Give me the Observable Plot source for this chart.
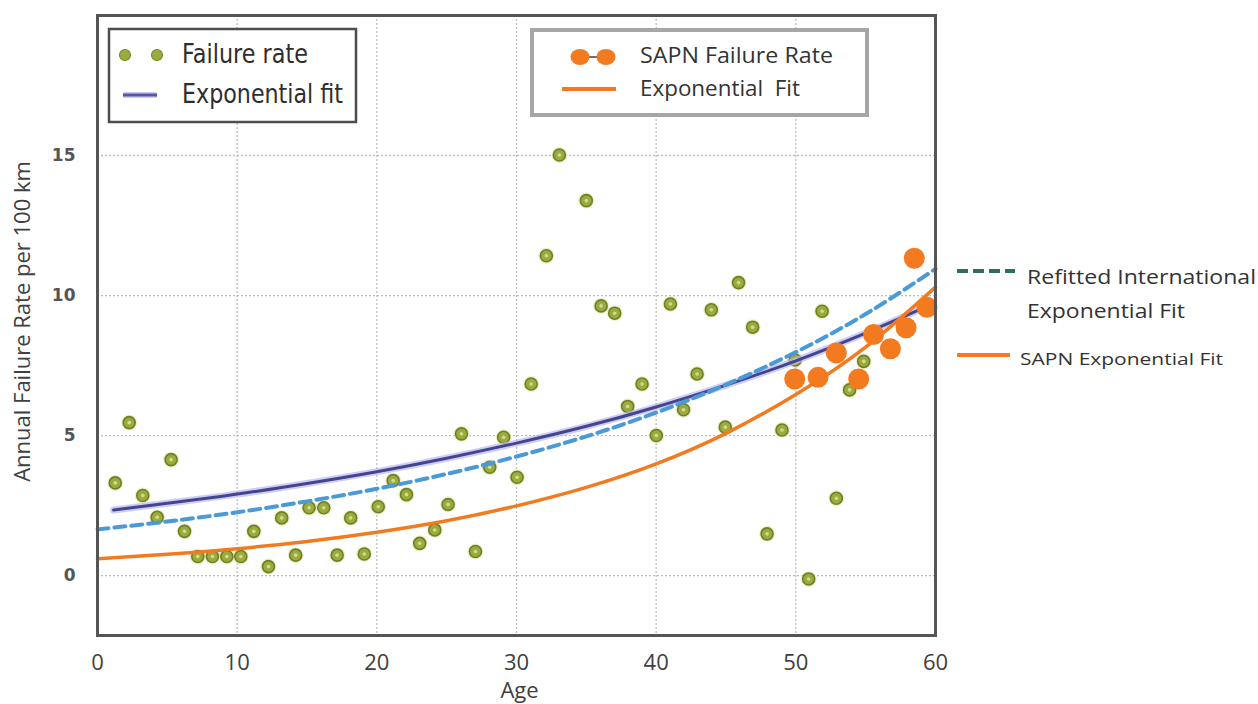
<!DOCTYPE html>
<html>
<head>
<meta charset="utf-8">
<script src="https://cdn.jsdelivr.net/npm/d3@7"></script>
<script src="https://cdn.jsdelivr.net/npm/@observablehq/plot@0.6"></script>
<style>
  html, body { margin: 0; padding: 0; background: #fff; }
  #chart { position: relative; width: 1258px; height: 704px; }
</style>
</head>
<body>
<div id="chart"></div>
<script>
// ---- data ----
const failureAge = [1.27, 2.27, 3.24, 4.27, 5.27, 6.23, 7.18, 8.23, 9.26, 10.26, 11.19, 12.24, 13.19, 14.19, 15.15, 16.2, 17.16, 18.13, 19.1, 20.1, 21.17, 22.12, 23.07, 24.15, 25.1, 26.06, 27.06, 28.08, 29.08, 30.04, 31.05, 32.14, 33.07, 35.0, 36.06, 37.03, 37.96, 38.99, 40.01, 41.02, 41.96, 42.93, 43.95, 44.95, 45.9, 46.91, 47.94, 49.01, 49.95, 50.92, 51.88, 52.9, 53.85, 54.86];
const failureRate = [3.31, 5.46, 2.86, 2.08, 4.14, 1.58, 0.68, 0.68, 0.68, 0.68, 1.58, 0.32, 2.06, 0.73, 2.42, 2.42, 0.73, 2.06, 0.77, 2.46, 3.39, 2.89, 1.15, 1.63, 2.54, 5.06, 0.86, 3.87, 4.94, 3.51, 6.84, 11.42, 15.02, 13.39, 9.63, 9.37, 6.04, 6.84, 5.0, 9.70, 5.92, 7.20, 9.49, 5.3, 10.46, 8.87, 1.49, 5.2, 7.7, -0.12, 9.44, 2.76, 6.63, 7.65];

const sapnAge = [49.92, 51.59, 52.9, 54.5, 55.57, 56.77, 57.89, 58.48, 59.39];
const sapnRate = [7.02, 7.08, 7.95, 7.02, 8.61, 8.1, 8.85, 11.33, 9.58];

const intlFitAge = [1.15, 5, 10, 15, 20, 25, 30, 35, 40, 45, 50, 55, 58.7];
const intlFitRate = [2.34, 2.58, 2.91, 3.29, 3.71, 4.19, 4.73, 5.33, 6.02, 6.80, 7.67, 8.66, 9.46];

const refitAge = [0, 5, 10, 15, 20, 25, 30, 35, 40, 45, 50, 55, 60];
const refitRate = [1.65, 1.93, 2.26, 2.65, 3.10, 3.63, 4.25, 4.97, 5.82, 6.82, 7.98, 9.34, 10.95];

const sapnFitAge = [0, 5, 10, 15, 20, 25, 30, 35, 40, 45, 50, 55, 60];
const sapnFitRate = [0.60, 0.76, 0.96, 1.22, 1.55, 1.96, 2.49, 3.15, 3.99, 5.08, 6.47, 8.16, 10.30];

const xTicks = [0, 10, 20, 30, 40, 50, 60];
const yTicks = [0, 5, 10, 15];
const xLabel = "Age";
const yLabel = "Annual Failure Rate per 100 km";
const legendA = ["Failure rate", "Exponential fit"];
const legendB = ["SAPN Failure Rate", "Exponential  Fit"];
const legendC = ["Refitted International", "Exponential Fit", "SAPN Exponential Fit"];

// ---- tables built from the arrays ----
const failure = failureAge.map((a, i) => ({age: a, rate: failureRate[i]}));
const sapn = sapnAge.map((a, i) => ({age: a, rate: sapnRate[i]}));
const intlFit = intlFitAge.map((a, i) => ({age: a, rate: intlFitRate[i]}));
const refit = refitAge.map((a, i) => ({age: a, rate: refitRate[i]}));
const sapnFit = sapnFitAge.map((a, i) => ({age: a, rate: sapnFitRate[i]}));

const plot = Plot.plot({
  width: 1258,
  height: 704,
  marginLeft: 97,
  marginRight: 323,
  marginTop: 15,
  marginBottom: 69,
  x: {domain: [0, 60]},
  y: {domain: [-2.14, 20]},
  style: {fontFamily: "'Open Sans', sans-serif", background: "#fff", color: "#404040"},
  marks: [
    Plot.gridX(xTicks.slice(1, -1), {stroke: "#bdbdbd", strokeOpacity: 1, strokeWidth: 1.3, strokeDasharray: "2,2"}),
    Plot.gridY(yTicks, {stroke: "#bdbdbd", strokeOpacity: 1, strokeWidth: 1.3, strokeDasharray: "2,2"}),
    Plot.axisX(xTicks, {tickSize: 0, tickPadding: 19, fontSize: 22, fill: "#404040", label: null}),
    Plot.axisY(yTicks, {tickSize: 0, tickPadding: 22, fontSize: 17, fontWeight: "bold", fontFamily: "DejaVu Sans", fill: "#555", label: null}),
    Plot.text([xLabel], {text: d => d, frameAnchor: "bottom", textAnchor: "middle", dy: 62, dx: 3, fontSize: 22, fill: "#404040"}),
    Plot.text([yLabel], {text: d => d, frameAnchor: "left", textAnchor: "middle", rotate: -90, dx: -75, dy: -4, fontSize: 22, fill: "#404040"}),
    // green failure-rate points
    Plot.dot(failure, {x: "age", y: "rate", r: 8, fill: "#dfe8a8", fillOpacity: 0.6, stroke: "none"}),
    Plot.dot(failure, {x: "age", y: "rate", r: 6, fill: "#9cab3e", stroke: "#6f7f26", strokeWidth: 1.6}),
    Plot.dot(failure, {x: "age", y: "rate", r: 1.8, fill: "#d2db8c", stroke: "none"}),
    // international exponential fit (with soft glow)
    Plot.line(intlFit, {x: "age", y: "rate", curve: "natural", stroke: "#b9b9f0", strokeWidth: 7, strokeOpacity: 0.7}),
    Plot.line(intlFit, {x: "age", y: "rate", curve: "natural", stroke: "#45458f", strokeWidth: 3}),
    // refitted international fit
    Plot.line(refit, {x: "age", y: "rate", curve: "natural", stroke: "#4a9ad8", strokeWidth: 4, strokeDasharray: "11,6"}),
    // SAPN exponential fit
    Plot.line(sapnFit, {x: "age", y: "rate", curve: "natural", stroke: "#f27b21", strokeWidth: 3.5}),
    // SAPN points
    Plot.dot(sapn, {x: "age", y: "rate", r: 10.5, fill: "#f47a1f", stroke: "none"}),
    Plot.frame({stroke: "#555", strokeWidth: 3})
  ]
});

document.getElementById("chart").appendChild(plot);

// ---- legends drawn over the chart ----
const svg = d3.select(plot);
const lg = svg.append("g").attr("text-anchor", "start");

function addText(x, y, str, family, size, len, color) {
  lg.append("text").attr("x", x).attr("y", y).text(str)
    .attr("text-anchor", "start")
    .attr("font-family", family).attr("font-size", size).attr("fill", color || "#333")
    .attr("textLength", len).attr("lengthAdjust", "spacingAndGlyphs");
}

// legend A (top-left)
lg.append("rect").attr("x", 109).attr("y", 29).attr("width", 247).attr("height", 93)
  .attr("fill", "#fff").attr("stroke", "#4d4d4d").attr("stroke-width", 2.5);
[125, 157].forEach(cx => {
  lg.append("circle").attr("cx", cx).attr("cy", 55).attr("r", 5.5).attr("fill", "#9cab3e").attr("stroke", "#7d8c34").attr("stroke-width", 1.2);
});
lg.append("line").attr("x1", 123).attr("x2", 157).attr("y1", 95).attr("y2", 95)
  .attr("stroke", "#b9b9f0").attr("stroke-width", 6).attr("stroke-opacity", 0.7);
lg.append("line").attr("x1", 123).attr("x2", 157).attr("y1", 95).attr("y2", 95)
  .attr("stroke", "#5858a8").attr("stroke-width", 3);
addText(182, 63, legendA[0], "DejaVu Sans", 27, 126, "#2e2e2e");
addText(182, 103, legendA[1], "DejaVu Sans", 27, 161, "#2e2e2e");

// legend B (top-middle)
lg.append("rect").attr("x", 532).attr("y", 30).attr("width", 335).attr("height", 85)
  .attr("fill", "#fff").attr("stroke", "#a6a6a6").attr("stroke-width", 4);
lg.append("line").attr("x1", 584).attr("x2", 602).attr("y1", 57).attr("y2", 57)
  .attr("stroke", "#404040").attr("stroke-width", 1.5);
[580, 606].forEach(cx => {
  lg.append("ellipse").attr("cx", cx).attr("cy", 57).attr("rx", 9.5).attr("ry", 8).attr("fill", "#f47a1f");
});
lg.append("line").attr("x1", 562).attr("x2", 616).attr("y1", 89).attr("y2", 89)
  .attr("stroke", "#f27b21").attr("stroke-width", 4);
addText(640, 63, legendB[0], "Open Sans", 21, 193);
addText(640, 96, legendB[1], "Open Sans", 21, 160);

// legend C (right side)
lg.append("line").attr("x1", 957).attr("x2", 1015).attr("y1", 271).attr("y2", 271)
  .attr("stroke", "#2e6e60").attr("stroke-width", 4).attr("stroke-dasharray", "11,5");
addText(1027, 284, legendC[0], "Open Sans", 20, 229);
addText(1027, 318, legendC[1], "Open Sans", 20, 158);
lg.append("line").attr("x1", 957).attr("x2", 1010).attr("y1", 355).attr("y2", 355)
  .attr("stroke", "#f27b21").attr("stroke-width", 4);
addText(1020, 365, legendC[2], "Open Sans", 17, 203);
</script>
</body>
</html>
